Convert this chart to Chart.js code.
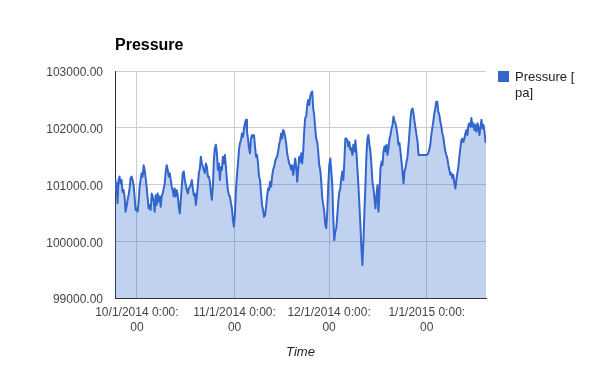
<!DOCTYPE html>
<html>
<head>
<meta charset="utf-8">
<script src="https://cdn.jsdelivr.net/npm/chart.js@4/dist/chart.umd.min.js"></script>
<style>
  html, body { margin: 0; padding: 0; background: #fff; }
</style>
</head>
<body>
<canvas id="graficoPresion" width="600" height="371"></canvas>
<script>
// dias desde el 1/10/2014 0:00
const days = [
  -6.95, -6.78, -6.46, -6.15, -5.83, -5.51, -5.19, -4.87, -4.55, -4.23,
  -3.92, -3.60, -3.28, -2.96, -2.64, -2.32, -2.00, -1.69, -1.37, -1.05,
  -0.73, -0.41, -0.09, 0.23, 0.55, 0.86, 1.18, 1.50, 1.82, 2.14,
  2.46, 2.78, 3.09, 3.41, 3.73, 4.05, 4.37, 4.69, 5.01, 5.32,
  5.64, 5.96, 6.28, 6.60, 6.92, 7.24, 7.55, 7.87, 8.19, 8.51,
  8.83, 9.15, 9.47, 9.78, 10.10, 10.42, 10.74, 11.06, 11.38, 11.70,
  12.01, 12.33, 12.65, 12.97, 13.29, 13.61, 13.93, 14.24, 14.56, 14.88,
  15.20, 15.52, 15.84, 16.16, 16.47, 16.79, 17.11, 17.43, 17.75, 18.07,
  18.39, 18.71, 19.02, 19.34, 19.66, 19.98, 20.30, 20.62, 20.94, 21.25,
  21.57, 21.89, 22.21, 22.53,
  22.84, 23.16, 23.47, 23.79, 24.11, 24.43, 24.75, 25.07, 25.39, 25.70,
  26.02, 26.34, 26.66, 26.98, 27.30, 27.62, 27.93, 28.25, 28.57, 28.89,
  29.21, 29.53, 29.85, 30.17, 30.48, 30.80, 31.12, 31.44, 31.76, 32.08,
  32.40, 32.71, 33.03, 33.35, 33.67, 33.99, 34.31, 34.63, 34.94, 35.26,
  35.58, 35.90, 36.22, 36.54, 36.86, 37.17, 37.49, 37.81, 38.13, 38.45,
  38.77, 39.09, 39.40, 39.72, 40.04, 40.36, 40.68, 41.00, 41.32, 41.63,
  41.95, 42.27, 42.59, 42.91, 43.23, 43.55, 43.87, 44.18, 44.50, 44.82,
  45.14, 45.46, 45.78, 46.10, 46.41, 46.73, 47.05, 47.37, 47.69, 48.01,
  48.33, 48.64, 48.96, 49.28, 49.60, 49.92, 50.24, 50.56, 50.87, 51.19,
  51.51, 51.83, 52.15,
  52.46, 52.78, 53.09, 53.41, 53.73, 54.05, 54.37, 54.69, 55.01, 55.32,
  55.64, 55.96, 56.28, 56.60, 56.92, 57.24, 57.55, 57.87, 58.19, 58.51,
  58.83, 59.15, 59.47, 59.79, 60.10, 60.42, 60.74, 61.06, 61.38, 61.70,
  62.02, 62.33, 62.65, 62.97, 63.29, 63.61, 63.93, 64.25, 64.56, 64.88,
  65.20, 65.52, 65.84, 66.16, 66.47, 66.79, 67.11, 67.43, 67.75, 68.07,
  68.39, 68.70, 69.02, 69.34, 69.66, 69.98, 70.30, 70.62, 70.93, 71.25,
  71.57, 71.89, 72.21, 72.53, 72.85, 73.16, 73.48, 73.80, 74.12, 74.44,
  74.76, 75.08, 75.40, 75.71, 76.03, 76.35, 76.67, 76.99, 77.31, 77.63,
  77.94, 78.26, 78.58, 78.90, 79.22, 79.54, 79.86, 80.17, 80.49, 80.81,
  81.13, 81.45, 81.77,
  82.07, 82.39, 82.70, 83.02, 83.34, 83.66, 83.98, 84.30, 84.62, 84.93,
  85.25, 85.57, 85.89, 86.21, 86.53, 86.85, 87.16, 87.48, 87.80, 88.12,
  88.44, 88.76, 89.08, 89.40, 89.71, 92.05, 92.47, 92.79, 93.11, 93.43,
  93.75, 94.07, 94.39, 94.71, 95.02, 95.34, 95.66, 95.98, 96.30, 96.62,
  96.94, 97.25, 97.57, 97.89, 98.21, 98.53, 98.85, 99.17, 99.48, 99.80,
  100.12, 100.44, 100.76, 101.08, 101.40, 101.71, 102.03, 102.35, 102.67, 102.99,
  103.31, 103.63, 103.94, 104.26, 104.58, 104.90, 105.22, 105.54, 105.86, 106.17,
  106.49, 106.81, 107.13, 107.45, 107.77, 108.09, 108.41, 108.72, 109.04, 109.36,
  109.68, 110.00, 110.32, 110.64, 110.8
];
const pressure = [
  101080, 100870, 101020, 100670, 101080, 101140, 101020, 101080, 100870, 100900,
  100790, 100520, 100610, 100730, 100810, 100930, 101110, 101140, 101080, 100990,
  100790, 100550, 100580, 100520, 100700, 100960, 101080, 101200, 101140, 101340,
  101260, 101110, 100960, 100760, 100580, 100640, 100550, 100840, 100790, 100700,
  100520, 100810, 100640, 100840, 100700, 100790, 100610, 100790, 100840, 100930,
  101020, 101230, 101340, 101260, 101140, 101200, 101080, 100960, 100900, 100790,
  100930, 100790, 100900, 100810, 100610, 100490, 100730, 100960, 101200, 101230,
  101080, 100990, 100900, 100840, 100930, 100960, 100990, 101080, 100930, 100810,
  100840, 100640, 100790, 100990, 101200, 101280, 101490, 101370, 101310, 101260,
  101200, 101370, 101310, 101140,
  101140, 101050, 100870, 100730, 100960, 101430, 101640, 101700, 101550, 101260,
  101370, 101080, 101310, 101260, 101490, 101370, 101520, 101310, 101080, 100900,
  100810, 100790, 100670, 100580, 100370, 100260, 100490, 100900, 101170, 101370,
  101610, 101730, 101780, 101900, 101840, 101990, 102080, 102140, 101930, 101810,
  101640, 101550, 101810, 101870, 101840, 101870, 101670, 101490, 101520, 101370,
  101140, 101080, 100850, 100640, 100550, 100430, 100460, 100610, 100790, 100930,
  100900, 101050, 100960, 101140, 101260, 101310, 101400, 101460, 101490, 101580,
  101700, 101780, 101900, 101810, 101960, 101930, 101840, 101730, 101550, 101460,
  101370, 101340, 101260, 101340, 101170, 101290, 101460, 101310, 101050, 101260,
  101490, 101400, 101550,
  101370, 101580, 101930, 102170, 102200, 102400, 102490, 102400, 102550, 102610,
  102640, 102340, 102220, 101990, 101810, 101750, 101580, 101340, 101260, 101050,
  100760, 100640, 100520, 100290, 100230, 100520, 100990, 101340, 101460, 101230,
  100990, 100400, 100020, 100170, 100230, 100460, 100700, 100870, 100930, 101110,
  101230, 101080, 101400, 101810, 101810, 101780, 101670, 101750, 101610, 101640,
  101520, 101700, 101580, 101780, 101580, 101290, 100990, 100640, 100290, 99880,
  99580, 99990, 100520, 100990, 101520, 101810, 101870, 101700, 101580, 101340,
  101050, 100930, 100760, 100580, 100810, 100990, 100520, 100870, 101290, 101400,
  101340, 101580, 101670, 101580, 101700, 101520, 101640, 101810, 101870, 101990,
  102050, 102200, 102110,
  102080, 101990, 101870, 101700, 101730, 101580, 101400, 101230, 101020, 101230,
  101290, 101400, 101490, 101700, 101930, 102170, 102310, 102340, 102250, 102110,
  101990, 101870, 101750, 101520, 101520, 101520, 101550, 101610, 101700, 101870,
  101990, 102110, 102250, 102340, 102460, 102460, 102280, 102230, 102110, 102020,
  101900, 101840, 101700, 101580, 101520, 101460, 101340, 101260, 101170, 101200,
  101110, 101170, 101020, 100930, 101080, 101200, 101310, 101490, 101640, 101780,
  101810, 101750, 101810, 101900, 101960, 101870, 102050, 102080, 102020, 102170,
  102020, 102080, 101960, 102050, 101930, 102080, 101990, 101870, 102020, 102140,
  101990, 102050, 101930, 101750, 101750
];
const tickDays = [0, 31, 61, 92];
const tickLabels = [
  ['10/1/2014 0:00:', '00'],
  ['11/1/2014 0:00:', '00'],
  ['12/1/2014 0:00:', '00'],
  ['1/1/2015 0:00:', '00']
];
const legendLines = ['Pressure [', 'pa]'];

const puntos = days.map((d, i) => ({ x: d, y: pressure[i] }));

// titulo y leyenda al estilo de Google Charts
const textos = {
  id: 'textos',
  afterDraw(chart) {
    const ctx = chart.ctx;
    ctx.save();
    ctx.fillStyle = '#000';
    ctx.font = 'bold 16px "Liberation Sans", Arial, sans-serif';
    ctx.textAlign = 'left';
    ctx.textBaseline = 'alphabetic';
    ctx.fillText('Pressure', 115, 50);

    ctx.fillStyle = chart.data.datasets[0].borderColor;
    ctx.fillRect(498, 71, 11, 11);
    ctx.fillStyle = '#222';
    ctx.font = '13px "Liberation Sans", Arial, sans-serif';
    ctx.textBaseline = 'middle';
    legendLines.forEach((t, i) => ctx.fillText(t, 515, 77 + i * 16));
    ctx.restore();
  }
};

const ctx = document.getElementById('graficoPresion');

new Chart(ctx, {
  type: 'line',
  data: {
    datasets: [{
      label: 'Pressure [pa]',
      data: puntos,
      borderColor: '#3366cc',
      backgroundColor: 'rgba(51, 102, 204, 0.3)',
      borderWidth: 2,
      borderJoinStyle: 'round',
      pointRadius: 0,
      tension: 0,
      fill: 'start'
    }]
  },
  options: {
    responsive: false,
    animation: false,
    devicePixelRatio: 1,
    layout: { padding: { left: 0, right: 114, top: 71, bottom: 0 } },
    plugins: {
      legend: { display: false },
      tooltip: { enabled: false }
    },
    scales: {
      x: {
        type: 'linear',
        min: -6.95,
        max: 110.8,
        afterFit: s => { s.height = 73; },
        afterBuildTicks: s => { s.ticks = tickDays.map(v => ({ value: v })); },
        ticks: {
          autoSkip: false,
          maxRotation: 0,
          padding: 7.5,
          color: '#444',
          font: { family: '"Liberation Sans", Arial, sans-serif', size: 12, lineHeight: 1.25 },
          callback: (v) => tickLabels[tickDays.indexOf(v)]
        },
        grid: { color: '#cccccc', drawTicks: false },
        border: { color: '#333333', width: 1 },
        title: {
          display: true,
          text: 'Time',
          color: '#222',
          font: { family: '"Liberation Sans", Arial, sans-serif', size: 13, style: 'italic' },
          padding: { top: 0, bottom: 11 }
        }
      },
      y: {
        min: 99000,
        max: 103000,
        afterFit: s => { s.width = 115; },
        ticks: {
          stepSize: 1000,
          padding: 12,
          labelOffset: 2,
          color: '#444',
          font: { family: '"Liberation Sans", Arial, sans-serif', size: 12 },
          callback: v => v.toFixed(2)
        },
        grid: { color: '#cccccc', drawTicks: false },
        border: { color: '#333333', width: 1 }
      }
    }
  },
  plugins: [textos]
});
</script>
</body>
</html>
